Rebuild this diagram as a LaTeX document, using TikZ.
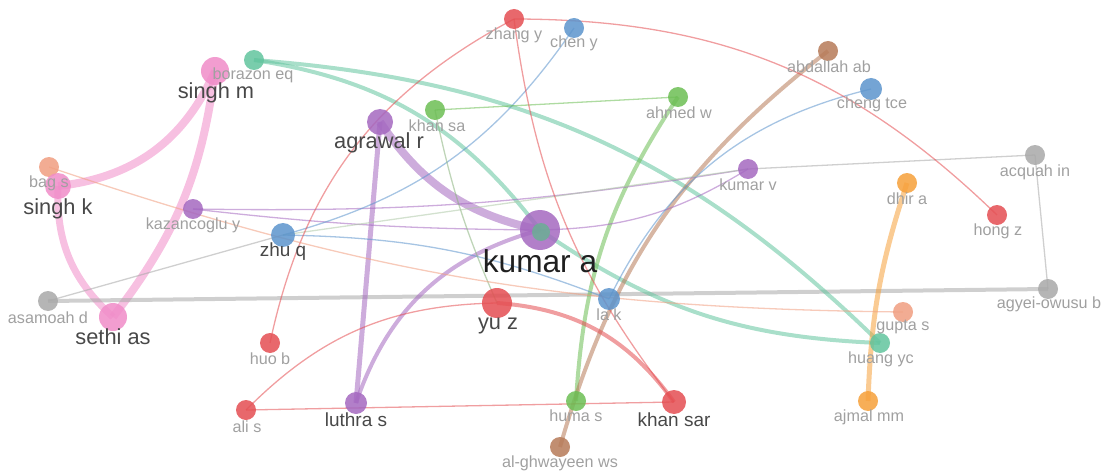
\documentclass[tikz,border=0pt]{standalone}
\usepackage{fontspec}
\setmainfont{Liberation Sans}
\usetikzlibrary{backgrounds}

\definecolor{vred}{RGB}{228,78,82}
\definecolor{vblue}{RGB}{92,148,204}
\definecolor{vgreen}{RGB}{108,190,84}
\definecolor{vteal}{RGB}{98,196,158}
\definecolor{vpurple}{RGB}{164,104,192}
\definecolor{vpink}{RGB}{240,140,200}
\definecolor{vorange}{RGB}{246,160,58}
\definecolor{vsalmon}{RGB}{240,158,128}
\definecolor{vbrown}{RGB}{182,122,88}
\definecolor{vgray}{RGB}{168,168,168}
\definecolor{lblgray}{RGB}{160,160,160}
\definecolor{lbldark}{RGB}{72,72,72}

\begin{document}
\begin{tikzpicture}[x=0.025cm, y=-0.025cm,
    author/.style={circle, draw=none, inner sep=0pt, minimum size=2*#1*0.025cm, fill opacity=0.85},
    small/.style={font=\fontsize{11.5}{12}\selectfont, text=lblgray, inner sep=0pt},
    medium/.style={font=\fontsize{13.5}{14}\selectfont, text=lbldark, inner sep=0pt},
    large/.style={font=\fontsize{15.5}{17}\selectfont, text=lbldark, inner sep=0pt},
    link/.style={line width=#1*0.025cm, opacity=0.55},
    link/.default=1.3
  ]
  \useasboundingbox (0,0) rectangle (1105,473);

  % Authors
  \node[author=10, fill=vred] (zhangy) at (514,19) {};
  \node[author=10, fill=vblue] (cheny) at (574,28) {};
  \node[author=10, fill=vteal] (borazoneq) at (254,60) {};
  \node[author=14, fill=vpink] (singhm) at (215,71) {};
  \node[author=10, fill=vbrown] (abdallahab) at (828,51) {};
  \node[author=11, fill=vblue] (chengtce) at (871,89) {};
  \node[author=10, fill=vgreen] (khansa) at (435,110) {};
  \node[author=10, fill=vgreen] (ahmedw) at (678,97) {};
  \node[author=13, fill=vpurple] (agrawalr) at (380,122) {};
  \node[author=10, fill=vpurple] (kumarv) at (748,169) {};
  \node[author=10, fill=vgray] (acquahin) at (1035,155) {};
  \node[author=10, fill=vsalmon] (bags) at (49,167) {};
  \node[author=13, fill=vpink] (singhk) at (58,186) {};
  \node[author=10, fill=vpurple] (kazancogluy) at (193,209) {};
  \node[author=10, fill=vorange] (dhira) at (907,183) {};
  \node[author=10, fill=vred] (hongz) at (997,215) {};
  \node[author=12, fill=vblue] (zhuq) at (283,235) {};
  \node[author=20, fill=vpurple] (kumara) at (540,230) {};
  \node[author=9, fill=vteal!70!gray] (kumarateal) at (541,232) {};
  \node[author=10, fill=vgray] (asamoahd) at (48,301) {};
  \node[author=10, fill=vgray] (agyeiowusub) at (1048,289) {};
  \node[author=15, fill=vred] (yuz) at (497,303) {};
  \node[author=11, fill=vblue] (lak) at (609,299) {};
  \node[author=10, fill=vsalmon] (guptas) at (903,312) {};
  \node[author=14, fill=vpink] (sethias) at (113,317) {};
  \node[author=10, fill=vteal] (huangyc) at (880,343) {};
  \node[author=10, fill=vred] (huob) at (270,343) {};
  \node[author=10, fill=vred] (alis) at (246,410) {};
  \node[author=11, fill=vpurple] (luthras) at (356,403) {};
  \node[author=10, fill=vgreen] (humas) at (576,401) {};
  \node[author=12, fill=vred] (khansar) at (674,402) {};
  \node[author=10, fill=vorange] (ajmalmm) at (868,401) {};
  \node[author=10, fill=vbrown] (alghwayeenws) at (560,447) {};

  % Links
  \begin{pgfonlayer}{background}
    % strong links
    \draw[link=8, vpink] (singhm.center) to[bend left=30] (singhk.center);
    \draw[link=8, vpink] (singhm.center) to[bend left=15] (sethias.center);
    \draw[link=7, vpink] (singhk.center) to[bend right=25] (sethias.center);
    \draw[link=4, vgray] (asamoahd.center) -- (agyeiowusub.center);
    \draw[link=8, vpurple] (agrawalr.center) to[bend right=22] (kumara.center);
    \draw[link=5, vpurple] (agrawalr.center) -- (luthras.center);
    \draw[link=4, vpurple] (luthras.center) to[bend left=28] (kumara.center);
    \draw[link=4, vteal] (borazoneq.center) to[bend left=22] (kumara.center);
    \draw[link=4, vteal] (kumara.center) to[bend right=16] (huangyc.center);
    \draw[link=4, vteal] (borazoneq.center) to[bend left=20] (huangyc.center);
    \draw[link=4, vgreen] (ahmedw.center) to[bend right=15] (humas.center);
    \draw[link=4, vbrown] (abdallahab.center) to[bend right=18] (alghwayeenws.center);
    \draw[link=5, vorange] (dhira.center) to[bend right=8] (ajmalmm.center);
    \draw[link=4, vred] (yuz.center) to[bend left=25] (khansar.center);
    % weak links
    \draw[link, vgray] (asamoahd.center) -- (zhuq.center);
    \draw[link, vgray] (acquahin.center) -- (agyeiowusub.center);
    \draw[link, vgray] (kumarv.center) -- (acquahin.center);
    \draw[link, vpurple] (kazancogluy.center) to[bend right=5] (kumarv.center);
    \draw[link, vpurple] (kazancogluy.center) to[bend right=3] (kumara.center);
    \draw[link, vpurple] (kumara.center) to[bend right=15] (kumarv.center);
    \draw[link, vblue] (zhuq.center) to[bend right=20] (cheny.center);
    \draw[link, vblue] (zhuq.center) to[bend left=10] (lak.center);
    \draw[link, vblue] (lak.center) to[bend left=25] (chengtce.center);
    \draw[link, vgreen] (khansa.center) -- (ahmedw.center);
    \draw[link, vgreen!50!vgray] (khansa.center) to[bend right=6] (yuz.center);
    \draw[link, vgreen!45!vgray!70!white] (zhuq.center) -- (kumarv.center);
    \draw[link, vred] (zhangy.center) to[bend right=25] (huob.center);
    \draw[link, vred] (zhangy.center) to[bend left=22] (hongz.center);
    \draw[link, vred] (zhangy.center) to[bend right=15] (khansar.center);
    \draw[link, vred] (alis.center) to[bend left=22] (yuz.center);
    \draw[link, vred] (alis.center) -- (khansar.center);
    \draw[link, vsalmon] (bags.center) to[bend right=9] (guptas.center);
  \end{pgfonlayer}

  % Labels
  \node[small] (zhangy-l) at (514,35) {zhang y};
  \node[small] (cheny-l) at (574,43) {chen y};
  \node[small] (borazoneq-l) at (253,75) {borazon eq};
  \node[large] (singhm-l) at (216,93) {singh m};
  \node[small] (abdallahab-l) at (829,67) {abdallah ab};
  \node[small] (chengtce-l) at (872,104) {cheng tce};
  \node[small] (khansa-l) at (437,126) {khan sa};
  \node[small] (ahmedw-l) at (679,113) {ahmed w};
  \node[large] (agrawalr-l) at (379,143) {agrawal r};
  \node[small] (kumarv-l) at (748,185) {kumar v};
  \node[small] (acquahin-l) at (1035,172) {acquah in};
  \node[small] (bags-l) at (49,183) {bag s};
  \node[large] (singhk-l) at (58,209) {singh k};
  \node[small] (kazancogluy-l) at (193,225) {kazancoglu y};
  \node[small] (dhira-l) at (907,199) {dhir a};
  \node[small] (hongz-l) at (998,231) {hong z};
  \node[medium] (zhuq-l) at (283,252) {zhu q};
  \node[font=\fontsize{22.5}{24}\selectfont, text=black!88, inner sep=0pt] (kumara-l) at (540,261) {kumar a};
  \node[small] (asamoahd-l) at (48,318) {asamoah d};
  \node[small] (agyeiowusub-l) at (1049,304) {agyei-owusu b};
  \node[large] (yuz-l) at (498,326) {yu z};
  \node[small] (lak-l) at (609,315) {la k};
  \node[small] (guptas-l) at (903,327) {gupta s};
  \node[large] (sethias-l) at (113,337) {sethi as};
  \node[small] (huangyc-l) at (881,359) {huang yc};
  \node[small] (huob-l) at (270,359) {huo b};
  \node[small] (alis-l) at (247,427) {ali s};
  \node[medium] (luthras-l) at (356,420) {luthra s};
  \node[small] (humas-l) at (576,416) {huma s};
  \node[medium] (khansar-l) at (674,420) {khan sar};
  \node[small] (ajmalmm-l) at (869,417) {ajmal mm};
  \node[small] (alghwayeenws-l) at (560,463) {al-ghwayeen ws};
\end{tikzpicture}
\end{document}
